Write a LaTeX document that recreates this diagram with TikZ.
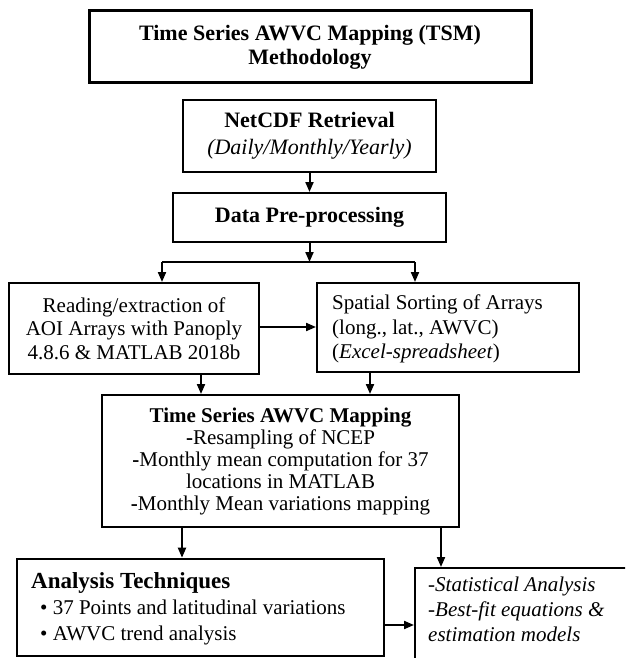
\documentclass[tikz,border=0pt]{standalone}
\usepackage{fontspec}
\setmainfont{Liberation Serif}
\usetikzlibrary{arrows.meta}
\tikzset{
  box/.style={draw, line width=2pt, inner sep=0pt, align=center,
    font=\fontsize{21}{23.5}\selectfont},
  thickbox/.style={box, line width=3pt},
  txt/.style={inner sep=0pt, align=left, font=\fontsize{21}{25}\selectfont},
  arr/.style={-{Triangle[length=10pt,width=8pt]}, line width=2pt},
  ln/.style={line width=2pt}
}
\begin{document}
\begin{tikzpicture}[x=1pt,y=-1pt]
\clip (0,0) rectangle (625,658);
\fill[white] (0,0) rectangle (625,658);

\node[thickbox, minimum width=442pt, minimum height=72pt,
  font=\fontsize{22}{24}\selectfont\bfseries] (title) at (310,47)
  {Time Series AWVC Mapping (TSM)\\Methodology};

\node[box, minimum width=253pt, minimum height=72pt,
  font=\fontsize{22}{27}\selectfont] (net) at (309.5,136)
  {\textbf{NetCDF Retrieval}\\\textit{(Daily/Monthly/Yearly)}};

\node[box, minimum width=273pt, minimum height=49pt,
  font=\fontsize{22}{24}\selectfont\bfseries] (data) at (309.5,217.5)
  {Data Pre-processing};

\node[box, minimum width=250pt, minimum height=91pt] (read) at (134,328.5)
  {Reading/extraction of\\AOI Arrays with Panoply\\4.8.6 \& MATLAB 2018b};

\node[box, minimum width=262pt, minimum height=89pt] (spat) at (448,327.5) {};
\node[txt, anchor=west, font=\fontsize{21}{24.5}\selectfont] (spattxt) at (332,329)
  {Spatial Sorting of Arrays\\(long., lat., AWVC)\\(\textit{Excel-spreadsheet})};

\node[box, minimum width=357pt, minimum height=132pt,
  font=\fontsize{21}{22}\selectfont] (tsm) at (280.5,461)
  {\textbf{Time Series AWVC Mapping}\\
   \textbf{-}Resampling of NCEP\\
   \textbf{-}Monthly mean computation for 37\\
   locations in MATLAB\\
   \textbf{-}Monthly Mean variations mapping};

\node[thickbox, line width=2.6pt, minimum width=367pt, minimum height=97pt] (ana) at (200.5,607.5) {};
\node[txt, anchor=west, font=\fontsize{21}{26}\selectfont] (anatxt) at (31,609)
  {{\fontsize{23}{26}\selectfont\bfseries Analysis Techniques}\\
   \hspace*{9pt}\textbullet\ 37 Points and latitudinal variations\\
   \hspace*{9pt}\textbullet\ AWVC trend analysis};

\node[box, line width=2.2pt, anchor=north west, minimum width=240pt, minimum height=110pt] (res) at (414,567) {};
\node[txt, anchor=west, font=\fontsize{21}{25}\selectfont\itshape] (restxt) at (428,609)
  {-Statistical Analysis\\-Best-fit equations \&\\estimation models};

% connectors
\draw[arr] (net.south) -- (data.north);
\coordinate (j) at (309.5,262);
\coordinate (jl) at (162,262);
\coordinate (jr) at (415,262);
\draw[arr] (data.south) -- (j);
\draw[ln] (jl) -- (jr);
\draw[arr] (jl) -- (jl |- read.north);
\draw[arr] (jr) -- (jr |- spat.north);
\coordinate (rs) at (259,327);
\draw[arr] (read.east |- rs) -- (spat.west |- rs);
\coordinate (rt) at (201,380);
\coordinate (st) at (370,380);
\draw[arr] (rt |- read.south) -- (rt |- tsm.north);
\draw[arr] (st |- spat.south) -- (st |- tsm.north);
\coordinate (ta) at (182,540);
\coordinate (tr) at (441,540);
\draw[arr] (ta |- tsm.south) -- (ta |- ana.north);
\draw[arr] (tr |- tsm.south) -- (tr |- res.north);
\coordinate (ar) at (390,625);
\draw[arr] (ana.east |- ar) -- (res.west |- ar);
\end{tikzpicture}
\end{document}
